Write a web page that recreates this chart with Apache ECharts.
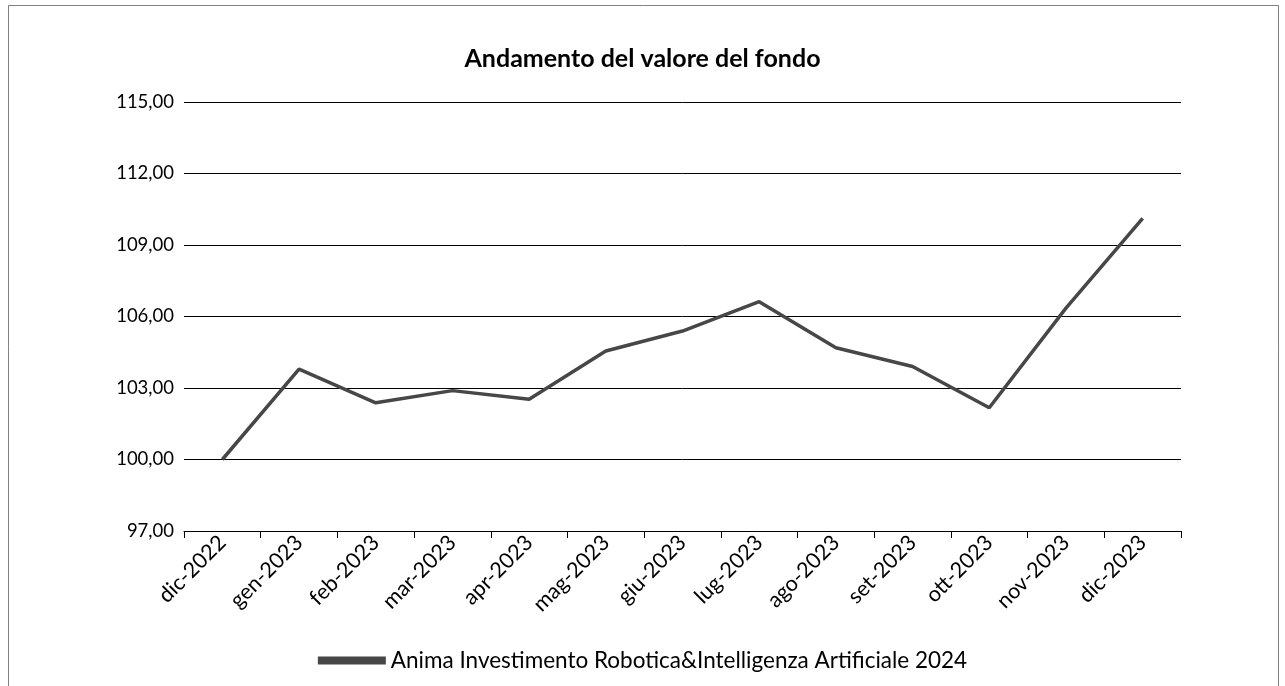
<!DOCTYPE html>
<html>
<head>
<meta charset="utf-8">
<script src="https://cdn.jsdelivr.net/npm/echarts@6/dist/echarts.min.js"></script>
<style>
html,body{margin:0;padding:0;background:#fff;}
#chart{width:1285px;height:686px;}
</style>
</head>
<body>
<div id="chart"></div>
<script>
const categories = ['dic-2022','gen-2023','feb-2023','mar-2023','apr-2023','mag-2023','giu-2023','lug-2023','ago-2023','set-2023','ott-2023','nov-2023','dic-2023'];
const seriesName = 'Anima Investimento Robotica&Intelligenza Artificiale 2024';
const values = [100.00, 103.79, 102.38, 102.89, 102.53, 104.55, 105.39, 106.62, 104.69, 103.90, 102.17, 106.35, 110.12];
const chartTitle = 'Andamento del valore del fondo';
const yMin = 97, yMax = 115, yStep = 3;

const chart = echarts.init(document.getElementById('chart'));
const FONT = 'Lato';
chart.setOption({
  backgroundColor: '#ffffff',
  animation: false,
  title: {
    text: chartTitle,
    left: 'center',
    top: 41,
    textStyle: {fontFamily: FONT, fontSize: 25, fontWeight: 'bold', color: '#000'}
  },
  graphic: [{
    type: 'rect',
    shape: {x: 8.5, y: 5.5, width: 1270, height: 700},
    style: {fill: 'none', stroke: '#808080', lineWidth: 1},
    silent: true
  }],
  legend: {
    bottom: 9,
    left: 'center',
    icon: 'rect',
    itemWidth: 68,
    itemHeight: 8,
    itemGap: 8,
    textStyle: {fontFamily: FONT, fontSize: 22.5, color: '#000'},
    data: [seriesName]
  },
  grid: {left: 184, right: 104, top: 102, bottom: 155, containLabel: false},
  xAxis: {
    type: 'category',
    data: categories,
    boundaryGap: true,
    axisLine: {show: true, lineStyle: {color: '#000', width: 1}},
    axisTick: {show: true, length: 7, alignWithLabel: false, lineStyle: {color: '#000'}},
    axisLabel: {
      interval: 0, rotate: 45, margin: 8,
      fontFamily: FONT, fontSize: 21.5, color: '#000'
    },
    splitLine: {show: false}
  },
  yAxis: {
    type: 'value',
    min: yMin, max: yMax, interval: yStep,
    axisLine: {show: false},
    axisTick: {show: false},
    axisLabel: {
      margin: 10,
      fontFamily: FONT, fontSize: 18.5, color: '#000',
      formatter: v => v.toFixed(2).replace('.', ',')
    },
    splitLine: {show: true, lineStyle: {color: '#000', width: 1}}
  },
  series: [{
    name: seriesName,
    type: 'line',
    data: values,
    symbol: 'none',
    lineStyle: {color: '#474747', width: 3.5},
    itemStyle: {color: '#474747'}
  }]
});
</script>
</body>
</html>
